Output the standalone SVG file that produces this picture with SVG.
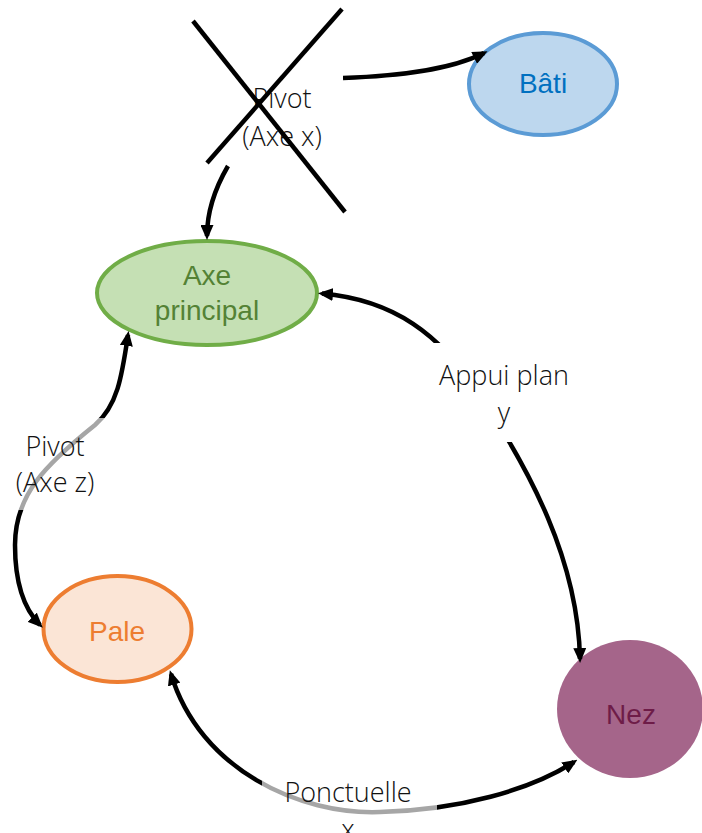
<svg xmlns="http://www.w3.org/2000/svg" width="702" height="833" viewBox="0 0 702 833">
  <style>
    .node-text { font-family: "Liberation Sans", Arial, sans-serif; font-size: 28px; text-anchor: middle; }
    .link { fill: none; stroke: #000; stroke-width: 4.5; }
    .lbl { font-family: "Open Sans", "Noto Sans", sans-serif; font-weight: 300; font-size: 27px; fill: #111; text-anchor: middle; }
    .lbl-bg { fill: #fff; }
    .lbl-bg-soft { fill: #fff; fill-opacity: 0.65; }
    .cross { stroke: #000; stroke-width: 4.5; }
  </style>
  <defs>
    <marker id="arrow" markerUnits="userSpaceOnUse" viewBox="0 0 15 13" markerWidth="15" markerHeight="13" refX="11" refY="6.5" orient="auto-start-reverse">
      <path d="M0,0 L15,6.5 L0,13 z" fill="#000"/>
    </marker>
  </defs>

  <rect width="702" height="833" fill="#fff"/>

  <!-- nodes -->
  <g id="bati">
    <ellipse cx="543" cy="84" rx="74" ry="51" fill="#BDD7EE" stroke="#5B9BD5" stroke-width="4"/>
    <text class="node-text" x="543" y="93" fill="#0070C0">Bâti</text>
  </g>
  <g id="axe-principal">
    <ellipse cx="207" cy="293" rx="110" ry="52" fill="#C5E0B4" stroke="#70AD47" stroke-width="4"/>
    <text class="node-text" x="207" y="285" fill="#548235">Axe</text>
    <text class="node-text" x="207" y="320" fill="#548235">principal</text>
  </g>
  <g id="pale">
    <ellipse cx="117.5" cy="629" rx="74" ry="53" fill="#FBE5D6" stroke="#ED7D31" stroke-width="4"/>
    <text class="node-text" x="117" y="641" fill="#ED7D31">Pale</text>
  </g>
  <g id="nez">
    <ellipse cx="630" cy="709" rx="73" ry="69" fill="#A5658A"/>
    <text class="node-text" x="631" y="724" fill="#6E1C48">Nez</text>
  </g>

  <!-- connectors -->
  <g id="connectors">
    <path class="link" d="M343,78 C400,76 450,70 484,53" marker-end="url(#arrow)"/>
    <path class="link" d="M228,166 C214,190 207,212 207,236" marker-end="url(#arrow)"/>
    <path class="link" d="M322,293.5 C395,300 440,335 478,392 C530,470 578,560 580,659" marker-start="url(#arrow)" marker-end="url(#arrow)"/>
    <path class="link" d="M128,335 C122,375 118,405 95,425 C45,465 15,495 15,545 C15,585 25,610 40,625" marker-start="url(#arrow)" marker-end="url(#arrow)"/>
    <path class="link" d="M171,674 C200,770 300,815 380,812 C460,810 530,790 574,762" marker-start="url(#arrow)" marker-end="url(#arrow)"/>
  </g>

  <!-- connector labels -->
  <g id="label-pivot-x">
    <rect class="lbl-bg" x="236" y="76" width="107" height="90"/>
    <text class="lbl" x="282" y="108">Pivot</text>
    <text class="lbl" x="282" y="146">(Axe x)</text>
    <line class="cross" x1="193" y1="21" x2="345" y2="212"/>
    <line class="cross" x1="207" y1="163" x2="342" y2="9"/>
  </g>
  <g id="label-appui">
    <rect class="lbl-bg" x="420" y="343" width="170" height="99"/>
    <text class="lbl" x="504" y="385">Appui plan</text>
    <text class="lbl" x="504" y="422">y</text>
  </g>
  <g id="label-pivot-z">
    <rect class="lbl-bg-soft" x="8" y="418" width="101" height="92"/>
    <text class="lbl" x="55" y="456">Pivot</text>
    <text class="lbl" x="55" y="492">(Axe z)</text>
  </g>
  <g id="label-ponctuelle">
    <rect class="lbl-bg-soft" x="262" y="781" width="175" height="60"/>
    <text class="lbl" x="348" y="802">Ponctuelle</text>
    <text class="lbl" x="348" y="839">x</text>
  </g>
</svg>
